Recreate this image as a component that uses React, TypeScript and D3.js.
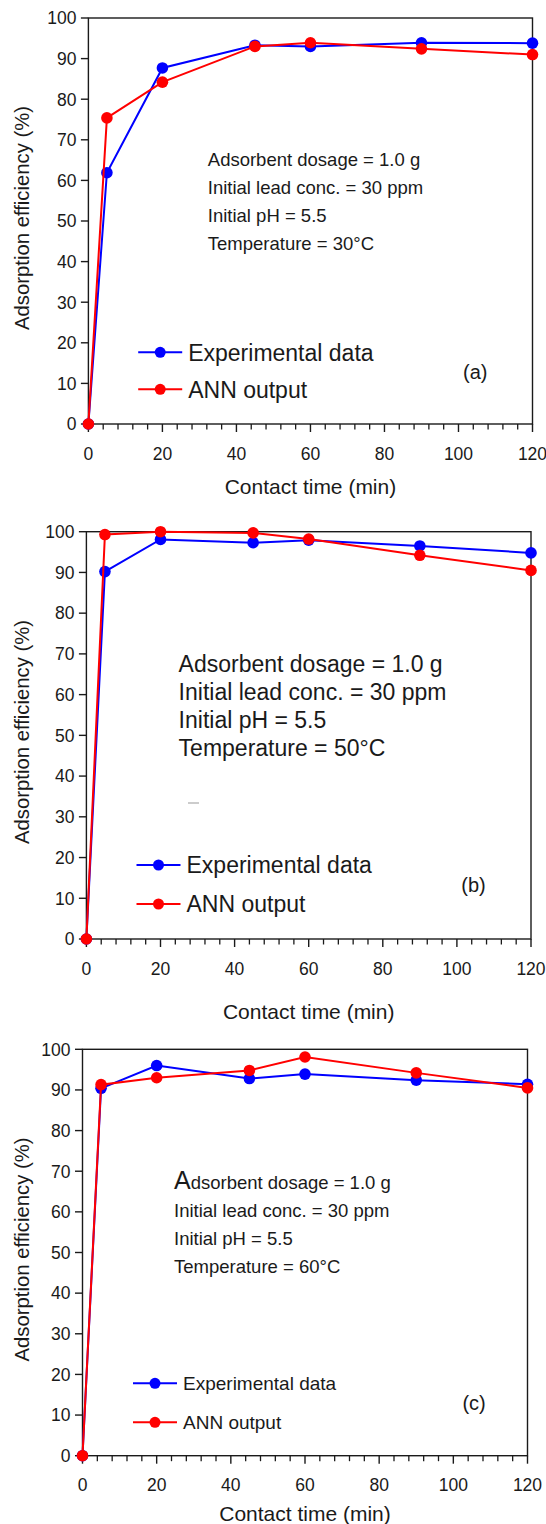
import React from "react";
import * as d3 from "d3";

const time = [0, 5, 20, 45, 60, 90, 120];
const expA = [0, 61.9, 87.7, 93.3, 93.0, 93.9, 93.8];
const annA = [0, 75.4, 84.2, 93.0, 93.9, 92.4, 91.0];
const expB = [0, 90.2, 98.1, 97.3, 97.9, 96.5, 94.8];
const annB = [0, 99.3, 100, 99.7, 98.2, 94.2, 90.5];
const expC = [0, 90.4, 96.0, 92.8, 93.9, 92.4, 91.4];
const annC = [0, 91.3, 93.0, 94.8, 98.1, 94.2, 90.5];

const xTicks = [0, 20, 40, 60, 80, 100, 120];
const xMinor = d3.range(0, 121, 4).filter((v) => v % 20 !== 0);
const yTicks = [0, 10, 20, 30, 40, 50, 60, 70, 80, 90, 100];

const seriesNames = ["Experimental data", "ANN output"];
const notesA = ["Adsorbent dosage = 1.0 g", "Initial lead conc. = 30 ppm", "Initial pH = 5.5", "Temperature = 30°C"];
const notesB = ["Adsorbent dosage = 1.0 g", "Initial lead conc. = 30 ppm", "Initial pH = 5.5", "Temperature = 50°C"];
const notesC = ["Adsorbent dosage = 1.0 g", "Initial lead conc. = 30 ppm", "Initial pH = 5.5", "Temperature = 60°C"];

const FONT = "'Liberation Sans', Arial, Helvetica, sans-serif";
const BLUE = "#0000ff";
const RED = "#ff0000";
const INK = "#1a1a1a";

type PanelProps = {
  exp: number[];
  ann: number[];
  notes: string[];
  tag: string;
  left: number; right: number; top: number; bottom: number;
  noteX: number; noteY: number[]; noteSize: number; bigA?: number;
  legX: number; legY: number[]; legSize: number;
  tagX: number; tagY: number;
  xTitleY: number; yTitleY: number;
  stray?: boolean;
};

function Panel(p: PanelProps) {
  const x = d3.scaleLinear().domain([0, 120]).range([p.left, p.right]);
  const y = d3.scaleLinear().domain([0, 100]).range([p.bottom, p.top]);
  const line = d3.line<number>().x((_, i) => x(time[i])).y((d) => y(d));
  const series = [
    { vals: p.exp, color: BLUE },
    { vals: p.ann, color: RED },
  ];
  return (
    <g fontFamily={FONT} fill={INK}>
      {/* frame */}
      <rect x={p.left} y={p.top} width={p.right - p.left} height={p.bottom - p.top} fill="none" stroke={INK} strokeWidth={1.4} />
      {/* x ticks */}
      {xTicks.map((t) => (
        <g key={"xt" + t}>
          <line x1={x(t)} x2={x(t)} y1={p.bottom} y2={p.bottom + 8} stroke={INK} strokeWidth={1.4} />
          <text x={x(t)} y={p.bottom + 35.6} textAnchor="middle" fontSize={17.5}>{t}</text>
        </g>
      ))}
      {xMinor.map((t) => (
        <line key={"xm" + t} x1={x(t)} x2={x(t)} y1={p.bottom} y2={p.bottom + 5.5} stroke={INK} strokeWidth={1.3} />
      ))}
      {/* y ticks */}
      {yTicks.map((t) => (
        <g key={"yt" + t}>
          <line x1={p.left - 7.5} x2={p.left} y1={y(t)} y2={y(t)} stroke={INK} strokeWidth={1.4} />
          <text x={p.left - 12} y={y(t) + 6.3} textAnchor="end" fontSize={17.5}>{t}</text>
        </g>
      ))}
      {/* axis titles */}
      <text x={(p.left + p.right) / 2} y={p.xTitleY} textAnchor="middle" fontSize={21}>Contact time (min)</text>
      <text transform={`translate(29,${p.yTitleY}) rotate(-90)`} textAnchor="middle" fontSize={20.3}>Adsorption efficiency (%)</text>
      {/* notes */}
      {p.notes.map((s, i) =>
        i === 0 && p.bigA ? (
          <text key={"n" + i} x={p.noteX} y={p.noteY[i]} fontSize={p.noteSize}>
            <tspan fontSize={p.bigA}>A</tspan>
            {s.slice(1)}
          </text>
        ) : (
          <text key={"n" + i} x={p.noteX} y={p.noteY[i]} fontSize={p.noteSize}>{s}</text>
        )
      )}
      {p.stray && <line x1={188} x2={199} y1={803} y2={803} stroke="#999" strokeWidth={1} />}
      {/* legend */}
      {series.map((s, i) => (
        <g key={"lg" + i}>
          <line x1={p.legX} x2={p.legX + 44} y1={p.legY[i]} y2={p.legY[i]} stroke={s.color} strokeWidth={2} />
          <circle cx={p.legX + 22} cy={p.legY[i]} r={5.5} fill={s.color} />
          <text x={p.legX + 50} y={p.legY[i] + 0.36 * p.legSize} fontSize={p.legSize}>{seriesNames[i]}</text>
        </g>
      ))}
      <text x={p.tagX} y={p.tagY} fontSize={20}>{p.tag}</text>
      {/* data */}
      {series.map((s, i) => (
        <g key={"s" + i}>
          <path d={line(s.vals) || ""} fill="none" stroke={s.color} strokeWidth={2} />
          {s.vals.map((v, j) => (
            <circle key={j} cx={x(time[j])} cy={y(v)} r={5.8} fill={s.color} />
          ))}
        </g>
      ))}
    </g>
  );
}

export default function App() {
  return (
    <div style={{ position: "absolute", left: 0, top: 0 }}>
      <svg width={546} height={1524} style={{ display: "block", background: "#fff" }}>
        <Panel exp={expA} ann={annA} notes={notesA} tag="(a)"
          left={88.4} right={532.5} top={18} bottom={424}
          noteX={207.8} noteY={[165.5, 193.5, 221.7, 250]} noteSize={18.5}
          legX={138.2} legY={[352.3, 389.3]} legSize={23}
          tagX={463} tagY={378.7} xTitleY={494} yTitleY={218} />
        <Panel exp={expB} ann={annB} notes={notesB} tag="(b)"
          left={86.4} right={531} top={531.7} bottom={939}
          noteX={178.6} noteY={[671.7, 700, 727.7, 756]} noteSize={23}
          legX={136.5} legY={[865, 904]} legSize={23}
          tagX={461.3} tagY={892} xTitleY={1019} yTitleY={732} stray />
        <Panel exp={expC} ann={annC} notes={notesC} tag="(c)"
          left={82.5} right={527.5} top={1049.3} bottom={1455.7}
          noteX={174} noteY={[1189, 1216.7, 1245, 1273.3]} noteSize={18.5} bigA={25}
          legX={133} legY={[1383.3, 1422.3]} legSize={19}
          tagX={462.4} tagY={1409.5} xTitleY={1520.5} yTitleY={1249.5} />
      </svg>
    </div>
  );
}
